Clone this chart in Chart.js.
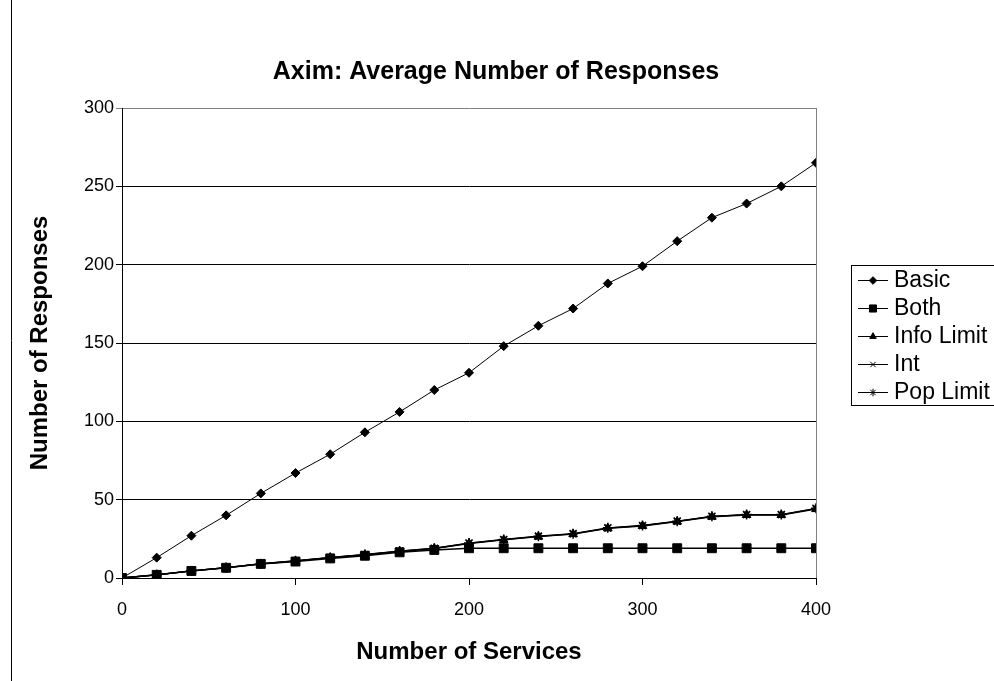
<!DOCTYPE html>
<html>
<head>
<meta charset="utf-8">
<script src="https://cdn.jsdelivr.net/npm/chart.js@4/dist/chart.umd.min.js"></script>
<style>
  html, body { margin: 0; padding: 0; background: #fff; }
  #wrap { width: 994px; height: 681px; position: relative; }
</style>
</head>
<body>
<div id="wrap"><canvas id="c" width="994" height="681"></canvas></div>
<script>
// Number of services offered (x values)
const services = [0, 20, 40, 60, 80, 100, 120, 140, 160, 180, 200, 220, 240, 260, 280, 300, 320, 340, 360, 380, 400];

// Average number of responses per strategy
const basic     = [0, 13, 27, 40, 54, 67, 79, 93, 106, 120, 131, 148, 161, 172, 188, 199, 215, 230, 239, 250, 265];
const both      = [0, 2, 4.5, 6.5, 9, 10.5, 12.5, 14.2, 16.4, 17.9, 19, 19, 19, 19, 19, 19, 19, 19, 19, 19, 19];
const infoLimit = [0, 2, 4.5, 6.6, 9, 10.8, 13, 14.8, 17, 18.8, 22, 24.3, 26.4, 28, 31.7, 33.2, 36, 39.1, 40.2, 40.2, 44];
const intS      = [0, 2, 4.6, 6.6, 9.1, 10.9, 13.1, 14.9, 17.1, 18.9, 22.2, 24.5, 26.6, 28.2, 31.9, 33.4, 36.2, 39.3, 40.4, 40.4, 44.3];
const popLimit  = [0, 2, 4.5, 6.5, 9, 11, 13, 15, 17.2, 19, 22.3, 24.6, 26.7, 28.3, 32, 33.5, 36.3, 39.4, 40.5, 40.5, 44.5];

const seriesNames = ['Basic', 'Both', 'Info Limit', 'Int', 'Pop Limit'];
const yTicks = [0, 50, 100, 150, 200, 250, 300];
const xTicks = [0, 100, 200, 300, 400];
const chartTitle = 'Axim: Average Number of Responses';

const FONT = '"Liberation Sans", Arial, sans-serif';

function pts(values) {
  return services.map((s, i) => ({ x: s, y: values[i] }));
}

function series(label, values, style, radius, lw) {
  return {
    label: label,
    data: pts(values),
    borderColor: '#000',
    backgroundColor: '#000',
    borderWidth: lw,
    pointStyle: style,
    pointRadius: radius,
    pointBorderWidth: style === 'crossRot' || style === 'star' ? 1.5 : 1,
    pointBackgroundColor: '#000',
    pointBorderColor: '#000',
    tension: 0,
    fill: false
  };
}

const datasets = [
  series(seriesNames[0], basic, 'rectRot', 4.5, 1),
  series(seriesNames[1], both, 'rect', 6.3, 1.5),
  series(seriesNames[2], infoLimit, 'triangle', 5, 1.3),
  series(seriesNames[3], intS, 'crossRot', 4.5, 1.3),
  series(seriesNames[4], popLimit, 'star', 5, 1.3)
];

// Chart title, boxed legend on the right and the frame lines
const frame = {
  id: 'frame',
  afterDraw(chart) {
    const ctx = chart.ctx;
    const a = chart.chartArea;
    ctx.save();
    // outer chart border
    ctx.strokeStyle = '#000';
    ctx.lineWidth = 1;
    ctx.beginPath();
    ctx.moveTo(11.5, 0);
    ctx.lineTo(11.5, 681);
    ctx.stroke();
    // plot area right edge
    ctx.strokeStyle = '#808080';
    ctx.beginPath();
    ctx.moveTo(Math.round(a.right) + 0.5, a.top);
    ctx.lineTo(Math.round(a.right) + 0.5, a.bottom);
    ctx.stroke();

    // title
    ctx.fillStyle = '#000';
    ctx.font = 'bold 25px ' + FONT;
    ctx.textAlign = 'center';
    ctx.textBaseline = 'middle';
    ctx.fillText(chartTitle, 496, 72);

    // legend box
    const lx = 851.5, ly = 265.5, lw = 160, lh = 140;
    ctx.strokeStyle = '#000';
    ctx.fillStyle = '#fff';
    ctx.fillRect(lx, ly, lw, lh);
    ctx.strokeRect(lx, ly, lw, lh);
    ctx.font = '23px ' + FONT;
    ctx.textBaseline = 'middle';
    ctx.textAlign = 'left';
    chart.data.datasets.forEach((ds, i) => {
      const y = 280 + i * 28;
      ctx.strokeStyle = '#000';
      ctx.lineWidth = 1;
      ctx.beginPath();
      ctx.moveTo(858, y + 0.5);
      ctx.lineTo(888, y + 0.5);
      ctx.stroke();
      ctx.fillStyle = '#000';
      Chart.helpers.drawPoint(ctx, {
        pointStyle: ds.pointStyle,
        radius: ds.pointStyle === 'rect' ? 5 : 3.8,
        rotation: 0,
        borderWidth: 1
      }, 873, y + 0.5);
      ctx.fillStyle = '#000';
      ctx.fillText(ds.label, 894, y + 1);
    });
    ctx.restore();
  }
};

new Chart(document.getElementById('c'), {
  type: 'line',
  data: { datasets: datasets },
  plugins: [frame],
  options: {
    responsive: false,
    animation: false,
    events: [],
    layout: { padding: { left: 12, right: 178, top: 108, bottom: 8 } },
    plugins: {
      legend: { display: false },
      tooltip: { enabled: false },
      title: { display: false }
    },
    scales: {
      x: {
        type: 'linear',
        min: 0,
        max: 400,
        afterBuildTicks(scale) { scale.ticks = xTicks.map(v => ({ value: v })); },
        afterFit(scale) { scale.height = 95; },
        border: { color: '#000', width: 1 },
        grid: { drawOnChartArea: false, drawTicks: true, tickLength: 7, color: '#000' },
        ticks: {
          color: '#000',
          padding: 14,
          maxRotation: 0,
          font: { family: FONT, size: 18 }
        },
        title: {
          display: true,
          text: 'Number of Services',
          color: '#000',
          font: { family: FONT, size: 24, weight: 'bold' },
          padding: { top: 0, bottom: 6 }
        }
      },
      y: {
        min: 0,
        max: 300,
        afterBuildTicks(scale) { scale.ticks = yTicks.map(v => ({ value: v })); },
        afterFit(scale) { scale.width = 110; },
        border: { color: '#000', width: 1 },
        grid: {
          drawTicks: true,
          tickLength: 6,
          color: (c) => c.tick && c.tick.value === 300 ? '#808080' : '#000',
          lineWidth: 1
        },
        ticks: {
          color: '#000',
          padding: 2,
          font: { family: FONT, size: 18 }
        },
        title: {
          display: true,
          text: 'Number of Responses',
          color: '#000',
          font: { family: FONT, size: 24, weight: 'bold' },
          padding: { top: 14, bottom: 0 }
        }
      }
    }
  }
});
</script>
</body>
</html>
